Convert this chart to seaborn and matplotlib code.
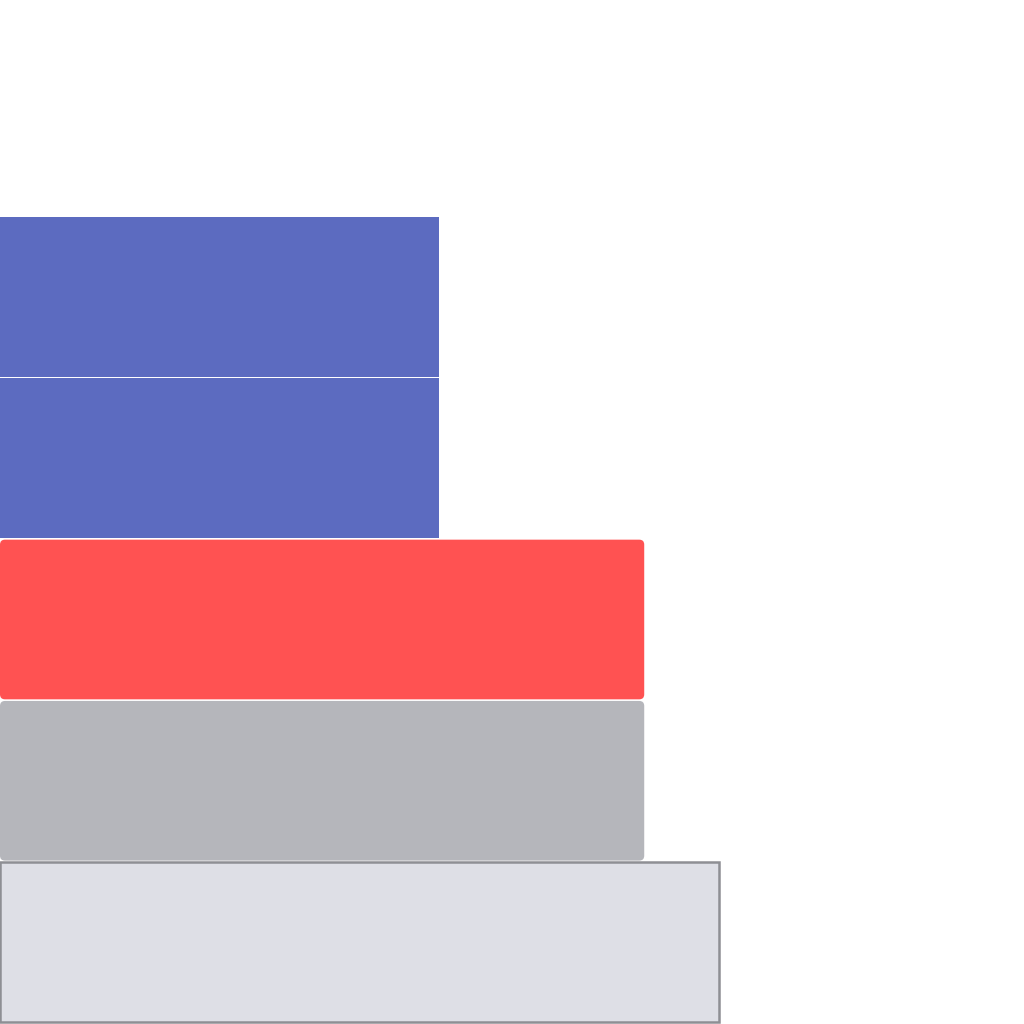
import matplotlib
matplotlib.use("Agg")
import matplotlib.pyplot as plt
from matplotlib.patches import FancyBboxPatch
import pandas as pd
import seaborn as sns

categories = ["A", "B", "C", "D", "E"]
values = [6.1, 6.1, 8.96, 8.96, 10.0]
colors = ["#5C6BC0", "#5C6BC0", "#FF5252", "#B5B6BB", "#DEDFE6"]

df = pd.DataFrame({"cat": categories, "val": values})

sns.set_style("white")
fig = plt.figure(figsize=(10.24, 10.24), dpi=100)
ax = fig.add_axes([0, 0, 1, 1])

sns.barplot(data=df, x="val", y="cat", hue="cat", palette=colors,
            orient="h", width=0.99, legend=False, saturation=1, ax=ax)

xmax = 10.0 * 1024 / 719
ax.set_xlim(0, xmax)
ax.set_ylim(4.508, -1.841)

for p in ax.patches[:2]:
    p.set_edgecolor("none")
    p.set_linewidth(0)

# rounded corners for the red and grey bars
px_x = xmax / 1024
px_y = (4.508 + 1.841) / 1024
for i in (2, 3):
    p = ax.patches[i]
    x0, y0 = p.get_x(), p.get_y()
    w, h = p.get_width(), p.get_height()
    p.set_visible(False)
    fb = FancyBboxPatch((x0, y0), w, h,
                        boxstyle=f"round,pad=0,rounding_size={5 * px_x}",
                        mutation_aspect=px_y / px_x,
                        facecolor=colors[i], edgecolor="none")
    ax.add_patch(fb)

# outlined last bar
last = ax.patches[4]
last.set_edgecolor("#8E8F94")
last.set_linewidth(1.8)

ax.set_axis_off()
fig.savefig("out.png", dpi=100)
